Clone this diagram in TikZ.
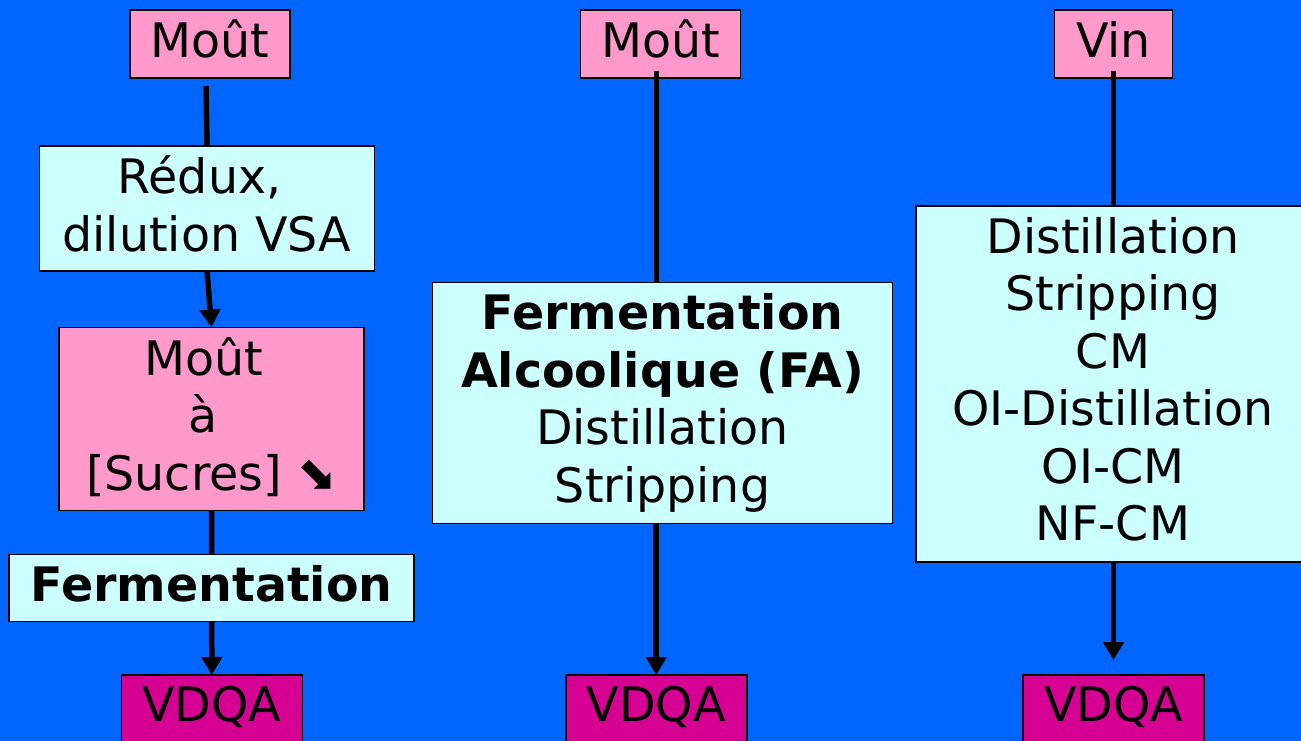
\documentclass[tikz,border=0pt]{standalone}
\usepackage{fontspec}
\setmainfont{DejaVu Sans}
\usetikzlibrary{arrows.meta}
\definecolor{bgblue}{RGB}{0,102,255}
\definecolor{pinkbox}{RGB}{255,153,204}
\definecolor{cyanbox}{RGB}{204,255,255}
\definecolor{magbox}{RGB}{214,0,147}
\newcommand\ms{\rule[-10pt]{0pt}{46pt}}
\begin{document}
\begin{tikzpicture}[x=1pt,y=-1pt,
  box/.style={draw=black, line width=1.6pt, inner sep=0pt, outer sep=0pt, align=center,
    font=\fontsize{47.5}{57.4}\selectfont},
  pinkb/.style={box, fill=pinkbox},
  cyanb/.style={box, fill=cyanbox},
  magb/.style={box, fill=magbox},
  link/.style={line width=5.5pt},
  arr/.style={line width=5.5pt, -{Triangle[width=20pt,length=18pt]}}]
\useasboundingbox (0,0) rectangle (1301,741);
\clip (0,0) rectangle (1301,741);
\fill[bgblue] (0,0) rectangle (1301,741);

% left column
\node[pinkb, minimum width=160pt, minimum height=68pt] (m1) at (210,44) {\ms Moût};
\node[cyanb, minimum width=335pt, minimum height=125pt] (redux) at (207,208.5) {\ms Rédux,\kern15pt\\\ms dilution VSA};
\node[pinkb, minimum width=305pt, minimum height=183pt] (mout2) at (211.5,419) {\ms Moût\kern16pt\\\ms à\kern16pt\\\ms [Sucres] ⬊};
\node[cyanb, minimum width=405pt, minimum height=67pt] (ferm) at (211.7,588) {\ms{\bfseries Fermentation}};
\node[magb, minimum width=181pt, minimum height=67pt] (vdqa1) at (211.8,708.5) {\ms VDQA};

% middle column
\node[pinkb, minimum width=160pt, minimum height=68pt] (m3) at (660.5,44) {\ms Moût};
\node[cyanb, minimum width=460pt, minimum height=241pt] (fa) at (662.5,403)
  {\ms{\bfseries Fermentation}\\\ms{\bfseries Alcoolique (FA)}\\\ms Distillation\\\ms Stripping};
\node[magb, minimum width=181pt, minimum height=67pt] (vdqa2) at (656.2,708.5) {\ms VDQA};

% right column
\node[pinkb, minimum width=118pt, minimum height=68pt] (vin) at (1113.5,44) {\ms Vin};
\node[cyanb, minimum width=394pt, minimum height=356pt] (rbox) at (1113,384)
  {\ms Distillation\\\ms Stripping\\\ms CM\\\ms OI-Distillation\\\ms OI-CM\\\ms NF-CM};
\node[magb, minimum width=181pt, minimum height=67pt] (vdqa3) at (1113.5,708.5) {\ms VDQA};

% connectors
\coordinate (t1) at (206,86);
\draw[link] (t1) -- (redux.north);
\draw[arr] (redux.south) -- (mout2.north);
\draw[link] (mout2.south) -- (ferm.north);
\draw[arr] (ferm.south) -- (vdqa1.north);

\coordinate (t2) at (656.7,71);
\draw[link] (t2) -- (t2 |- fa.north);
\draw[arr] (fa.south -| vdqa2.north) -- (vdqa2.north);

\coordinate (t3) at (1113.5,71);
\draw[link] (t3) -- (t3 |- rbox.north);
\draw[arr, shorten >=15pt] (rbox.south -| vdqa3.north) -- (vdqa3.north);
\end{tikzpicture}
\end{document}
